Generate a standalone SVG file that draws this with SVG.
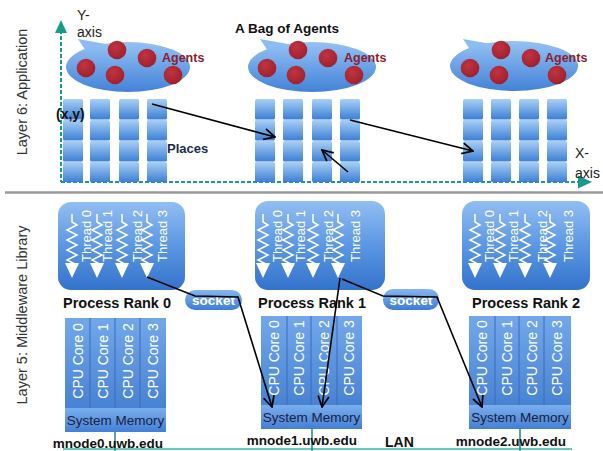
<svg xmlns="http://www.w3.org/2000/svg" xmlns:xlink="http://www.w3.org/1999/xlink" width="603" height="451" viewBox="0 0 603 451">
<defs>
<style>
text{font-family:"Liberation Sans",Arial,sans-serif}
.lay{font-size:14.5px;fill:#333}
.ax{font-size:14px;fill:#222}
.ag{font-size:12.5px;font-weight:bold;fill:#8b1e2e}
.b{font-weight:bold;fill:#111}
.thr{font-size:13px;fill:#fff}
.cpu{font-size:14px;fill:#fff}
.mem{font-size:13.5px;fill:#1a2040}
.sock{font-size:13.5px;font-weight:bold;fill:#fff}
.dash{stroke:#1a9a8a;stroke-width:2;stroke-dasharray:4 2;fill:none}
.arr{stroke:#000;stroke-width:1.6;fill:none;marker-end:url(#ah)}
.lan{stroke:#3ab5a5;stroke-width:1.5}
.drop{stroke:#1a8a80;stroke-width:1.5}
</style>
<linearGradient id="gCell" x1="0" y1="0" x2="0" y2="1"><stop offset="0" stop-color="#a8d0f6"/><stop offset="1" stop-color="#3c7fd4"/></linearGradient>
<linearGradient id="gBag" x1="0" y1="0" x2="0" y2="1"><stop offset="0" stop-color="#95c2f4"/><stop offset="1" stop-color="#4282d8"/></linearGradient>
<linearGradient id="gProc" x1="0" y1="0" x2="0" y2="1"><stop offset="0" stop-color="#92bef2"/><stop offset="0.5" stop-color="#5b97e2"/><stop offset="1" stop-color="#3373cc"/></linearGradient>
<linearGradient id="gNode" x1="0" y1="0" x2="0" y2="1"><stop offset="0" stop-color="#72a8ea"/><stop offset="1" stop-color="#3c78cd"/></linearGradient>
<linearGradient id="gMem" x1="0" y1="0" x2="0" y2="1"><stop offset="0" stop-color="#7aaeee"/><stop offset="1" stop-color="#4380d4"/></linearGradient>
<linearGradient id="gSock" x1="0" y1="0" x2="0" y2="1"><stop offset="0" stop-color="#86b6f0"/><stop offset="1" stop-color="#3d7cd4"/></linearGradient>
<radialGradient id="gRed" cx="0.4" cy="0.35" r="0.7"><stop offset="0" stop-color="#c03440"/><stop offset="1" stop-color="#9e1f2b"/></radialGradient>
<marker id="ah" viewBox="0 0 12 12" refX="11" refY="6" markerWidth="13" markerHeight="13" markerUnits="userSpaceOnUse" orient="auto"><path d="M1,1 L11,6 L1,11" fill="none" stroke="#000" stroke-width="1.6"/></marker>
<g id="col">
<rect x="0" y="0" width="20" height="20.5" rx="1.5" fill="url(#gCell)"/>
<rect x="0" y="21" width="20" height="20.5" rx="1.5" fill="url(#gCell)"/>
<rect x="0" y="42" width="20" height="20.5" rx="1.5" fill="url(#gCell)"/>
<rect x="0" y="63" width="20" height="20" rx="1.5" fill="url(#gCell)"/>
</g>
<g id="thread">
<path d="M0,0 L0,8 l5,3 l-10,5 l10,5 l-10,5 l10,5 l-10,5 l10,5 l-10,5 l10,5 l-5,3" fill="none" stroke="#fff" stroke-width="1.5"/>
<path d="M-7,49 L7,49 L0,64 Z" fill="#fff"/>
</g>
<g id="bagdots">
<circle cx="0" cy="0" r="9.3" fill="url(#gRed)"/>
<circle cx="31" cy="-18" r="9.3" fill="url(#gRed)"/>
<circle cx="61" cy="-10" r="9.3" fill="url(#gRed)"/>
<circle cx="29" cy="7" r="9.3" fill="url(#gRed)"/>
<circle cx="87" cy="7" r="9.3" fill="url(#gRed)"/>
</g>
</defs>
<rect width="603" height="451" fill="#fff"/>

<!-- layer labels -->
<text class="lay" transform="translate(27,92) rotate(-90)" text-anchor="middle">Layer 6: Application</text>
<text class="lay" transform="translate(27,315) rotate(-90)" text-anchor="middle">Layer 5: Middleware Library</text>
<line x1="5" y1="192.5" x2="603" y2="192.5" stroke="#999" stroke-width="2.5"/>

<!-- axes -->
<g id="axes">
<line class="dash" x1="61" y1="30" x2="61" y2="182"/>
<line class="dash" x1="61" y1="182" x2="580" y2="182"/>
<path d="M55,33 L61,20 L67,33 Z" fill="#1a9a8a"/>
<path d="M578,175.5 L592,182 L578,188.5 Z" fill="#1a9a8a"/>
<text class="ax" x="77" y="20">Y-</text>
<text class="ax" x="77" y="37">axis</text>
<text class="ax" x="575" y="158">X-</text>
<text class="ax" x="575" y="178">axis</text>
</g>

<!-- bags -->
<g id="bag0">
<path d="M78,39 L86,51 L106,44 Z" fill="#8bbcf2"/>
<ellipse cx="128" cy="67" rx="62" ry="25" fill="url(#gBag)"/>
<use xlink:href="#bagdots" x="86" y="68"/>
<text class="ag" x="162" y="62">Agents</text>
</g>
<g id="bag1">
<path d="M260,39 L268,51 L288,44 Z" fill="#8bbcf2"/>
<ellipse cx="312" cy="67" rx="64" ry="25" fill="url(#gBag)"/>
<use xlink:href="#bagdots" x="267" y="68"/>
<text class="ag" x="344" y="62">Agents</text>
<text class="b" x="235" y="33" font-size="13.5">A Bag of Agents</text>
</g>
<g id="bag2">
<path d="M463,39 L471,51 L491,44 Z" fill="#8bbcf2"/>
<ellipse cx="514" cy="66" rx="64" ry="25" fill="url(#gBag)"/>
<use xlink:href="#bagdots" x="470" y="68"/>
<text class="ag" x="545" y="62">Agents</text>
</g>

<!-- places -->
<g id="places0">
<use xlink:href="#col" x="63" y="99"/>
<use xlink:href="#col" x="90" y="99"/>
<use xlink:href="#col" x="119" y="99"/>
<use xlink:href="#col" x="147" y="99"/>
<text class="b" x="56" y="119" font-size="14">(x,y)</text>
<text class="b" x="167" y="153" font-size="13" style="fill:#1c2b4c">Places</text>
</g>
<g id="places1">
<use xlink:href="#col" x="255" y="99"/>
<use xlink:href="#col" x="283" y="99"/>
<use xlink:href="#col" x="312" y="99"/>
<use xlink:href="#col" x="340" y="99"/>
</g>
<g id="places2">
<use xlink:href="#col" x="463" y="99"/>
<use xlink:href="#col" x="491" y="99"/>
<use xlink:href="#col" x="519" y="99"/>
<use xlink:href="#col" x="547" y="99"/>
</g>

<!-- processes -->
<g id="proc0">
<rect x="58" y="202" width="127" height="88" rx="13" fill="url(#gProc)"/>
<use xlink:href="#thread" x="72" y="214"/>
<use xlink:href="#thread" x="97" y="214"/>
<use xlink:href="#thread" x="122" y="214"/>
<use xlink:href="#thread" x="147" y="214"/>
<text class="thr" transform="translate(91,236) rotate(-90)" text-anchor="middle">Thread 0</text>
<text class="thr" transform="translate(112,236) rotate(-90)" text-anchor="middle">Thread 1</text>
<text class="thr" transform="translate(142,236) rotate(-90)" text-anchor="middle">Thread 2</text>
<text class="thr" transform="translate(167,236) rotate(-90)" text-anchor="middle">Thread 3</text>
<text class="b" x="117" y="308" font-size="14.5" text-anchor="middle">Process Rank 0</text>
</g>
<g id="proc1">
<rect x="255" y="201" width="130" height="89" rx="13" fill="url(#gProc)"/>
<use xlink:href="#thread" x="263" y="214"/>
<use xlink:href="#thread" x="288" y="214"/>
<use xlink:href="#thread" x="313" y="214"/>
<use xlink:href="#thread" x="338" y="214"/>
<text class="thr" transform="translate(282,236) rotate(-90)" text-anchor="middle">Thread 0</text>
<text class="thr" transform="translate(305,236) rotate(-90)" text-anchor="middle">Thread 1</text>
<text class="thr" transform="translate(333,236) rotate(-90)" text-anchor="middle">Thread 2</text>
<text class="thr" transform="translate(360,236) rotate(-90)" text-anchor="middle">Thread 3</text>
<text class="b" x="312" y="308" font-size="14.5" text-anchor="middle">Process Rank 1</text>
</g>
<g id="proc2">
<rect x="462" y="201" width="128" height="89" rx="13" fill="url(#gProc)"/>
<use xlink:href="#thread" x="475" y="214"/>
<use xlink:href="#thread" x="500" y="214"/>
<use xlink:href="#thread" x="525" y="214"/>
<use xlink:href="#thread" x="550" y="214"/>
<text class="thr" transform="translate(494,236) rotate(-90)" text-anchor="middle">Thread 0</text>
<text class="thr" transform="translate(518,236) rotate(-90)" text-anchor="middle">Thread 1</text>
<text class="thr" transform="translate(547,236) rotate(-90)" text-anchor="middle">Thread 2</text>
<text class="thr" transform="translate(573,236) rotate(-90)" text-anchor="middle">Thread 3</text>
<text class="b" x="526" y="308" font-size="14.5" text-anchor="middle">Process Rank 2</text>
</g>

<!-- sockets -->
<g id="socket0">
<rect x="185" y="290" width="57" height="20" rx="10" fill="url(#gSock)"/>
<text class="sock" x="213.5" y="305" text-anchor="middle">socket</text>
</g>
<g id="socket1">
<rect x="383" y="289" width="56" height="21" rx="10" fill="url(#gSock)"/>
<text class="sock" x="411" y="304.5" text-anchor="middle">socket</text>
</g>

<!-- LAN -->
<g id="lan">
<line class="lan" x1="63" y1="449" x2="572" y2="449"/>
<line class="drop" x1="115" y1="432" x2="115" y2="451"/>
<line class="drop" x1="312" y1="429" x2="312" y2="451"/>
<line class="drop" x1="520" y1="429" x2="520" y2="451"/>
<text class="b" x="385" y="447" font-size="14">LAN</text>
</g>

<!-- nodes -->
<g id="node0">
<rect x="65" y="318" width="101" height="114" fill="url(#gNode)"/>
<rect x="65" y="408" width="101" height="24" fill="url(#gMem)"/>
<g stroke="#3a6db5" stroke-width="1"><line x1="90" y1="318" x2="90" y2="408"/><line x1="115" y1="318" x2="115" y2="408"/><line x1="140" y1="318" x2="140" y2="408"/></g>
<text class="cpu" transform="translate(82.5,361) rotate(-90)" text-anchor="middle">CPU Core 0</text>
<text class="cpu" transform="translate(107.5,361) rotate(-90)" text-anchor="middle">CPU Core 1</text>
<text class="cpu" transform="translate(132.5,361) rotate(-90)" text-anchor="middle">CPU Core 2</text>
<text class="cpu" transform="translate(158,361) rotate(-90)" text-anchor="middle">CPU Core 3</text>
<text class="mem" x="115.5" y="425" text-anchor="middle">System Memory</text>
<text class="b" x="108" y="448" font-size="13.5" text-anchor="middle">mnode0.uwb.edu</text>
</g>
<g id="node1">
<rect x="261" y="316" width="101" height="113" fill="url(#gNode)"/>
<rect x="261" y="405" width="101" height="24" fill="url(#gMem)"/>
<g stroke="#3a6db5" stroke-width="1"><line x1="287" y1="316" x2="287" y2="405"/><line x1="311" y1="316" x2="311" y2="405"/><line x1="337" y1="316" x2="337" y2="405"/></g>
<text class="cpu" transform="translate(279,358) rotate(-90)" text-anchor="middle">CPU Core 0</text>
<text class="cpu" transform="translate(304,358) rotate(-90)" text-anchor="middle">CPU Core 1</text>
<text class="cpu" transform="translate(329,358) rotate(-90)" text-anchor="middle">CPU Core 2</text>
<text class="cpu" transform="translate(354,358) rotate(-90)" text-anchor="middle">CPU Core 3</text>
<text class="mem" x="311.5" y="422" text-anchor="middle">System Memory</text>
<text class="b" x="302" y="445" font-size="13.5" text-anchor="middle">mnode1.uwb.edu</text>
</g>
<g id="node2">
<rect x="469" y="316" width="102" height="113" fill="url(#gNode)"/>
<rect x="469" y="405" width="102" height="24" fill="url(#gMem)"/>
<g stroke="#3a6db5" stroke-width="1"><line x1="495" y1="316" x2="495" y2="405"/><line x1="519" y1="316" x2="519" y2="405"/><line x1="544" y1="316" x2="544" y2="405"/></g>
<text class="cpu" transform="translate(487,358) rotate(-90)" text-anchor="middle">CPU Core 0</text>
<text class="cpu" transform="translate(512,358) rotate(-90)" text-anchor="middle">CPU Core 1</text>
<text class="cpu" transform="translate(537,358) rotate(-90)" text-anchor="middle">CPU Core 2</text>
<text class="cpu" transform="translate(562,358) rotate(-90)" text-anchor="middle">CPU Core 3</text>
<text class="mem" x="520" y="422" text-anchor="middle">System Memory</text>
<text class="b" x="511" y="446" font-size="13.5" text-anchor="middle">mnode2.uwb.edu</text>
</g>

<!-- connectors -->
<g id="connectors">
<line class="arr" x1="152" y1="104" x2="275" y2="137"/>
<line class="arr" x1="350" y1="120" x2="473" y2="151"/>
<line class="arr" x1="348" y1="172" x2="322" y2="150"/>
<polyline class="arr" points="147,277 195,296 238,297 272,407"/>
<line class="arr" x1="340" y1="278" x2="322" y2="407"/>
<polyline class="arr" points="342,279 383,296 437,297 482,407"/>
</g>
</svg>
